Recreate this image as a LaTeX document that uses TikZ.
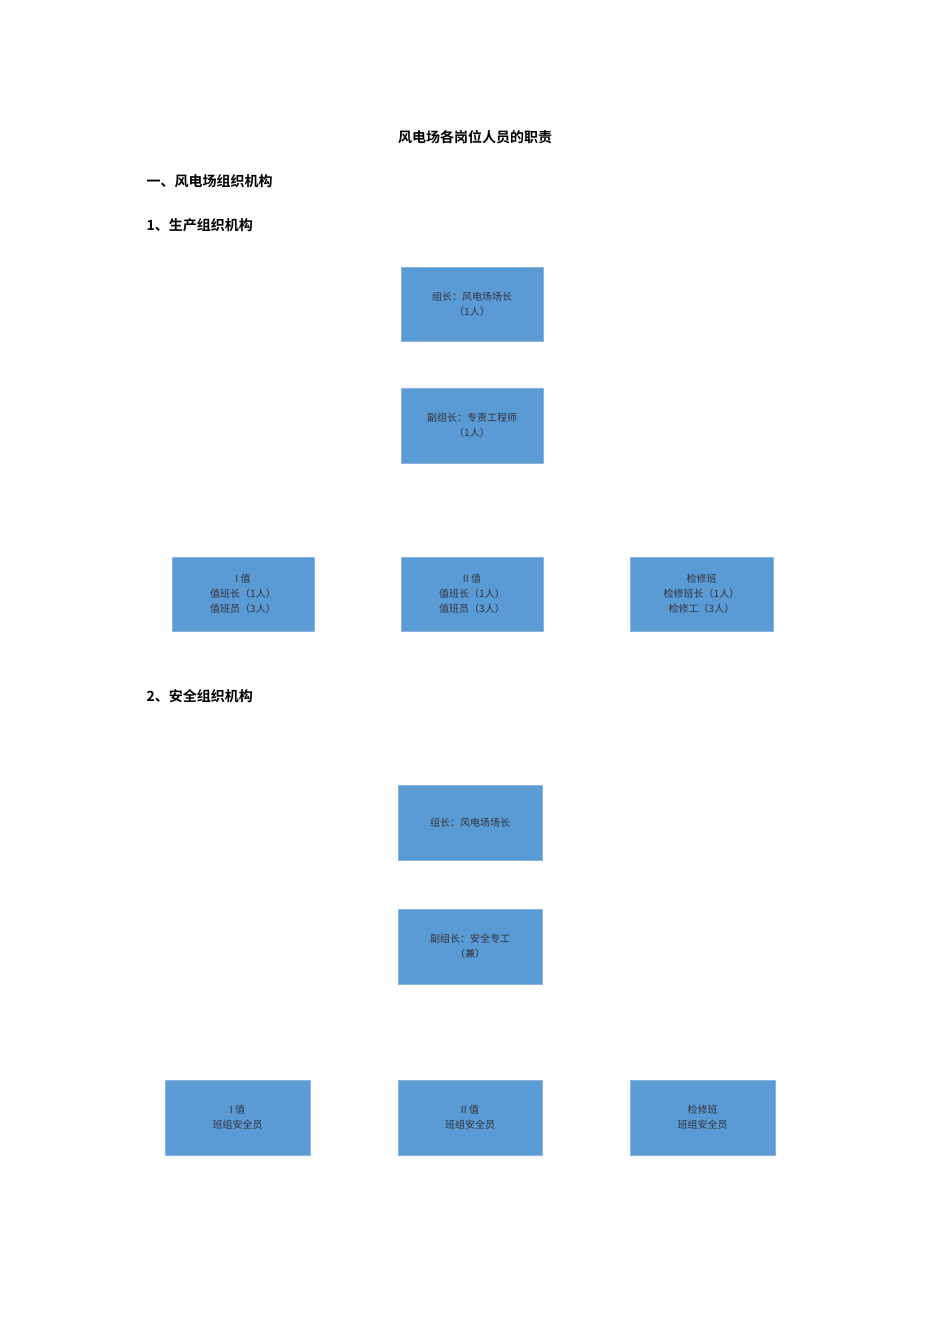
\documentclass[tikz,border=0pt]{standalone}
\usepackage{fontspec}
\setmainfont{Noto Sans CJK SC}
\newfontfamily\hd{Noto Sans CJK SC Bold}
\begin{document}
\begin{tikzpicture}[x=1pt,y=-1pt,
 bx/.style={fill={rgb,255:red,91;green,155;blue,213},draw={rgb,255:red,140;green,180;blue,225},line width=1pt,align=center,font=\fontsize{10}{15}\selectfont,text={rgb,255:red,50;green,50;blue,60},inner sep=0pt},
 hd/.style={anchor=west,font=\hd\fontsize{14}{16}\selectfont}]
\useasboundingbox (0,0) rectangle (950,1344);
\node[font=\hd\fontsize{14}{16}\selectfont] (t) at (475,137) {风电场各岗位人员的职责};
\node[hd] (h1) at (143,181) {一、风电场组织机构};
\node[hd] (h2) at (143,225) {1、生产组织机构};
\node[hd] (h3) at (143,696) {2、安全组织机构};
\newcommand\bxat[6]{\node[bx,minimum width=#4-#2,minimum height=#5-#3] (#1) at ({(#2+#4)/2},{(#3+#5)/2}) {#6};}
\bxat{a1}{401}{267}{543}{341}{组长：风电场场长\\（1人）}
\bxat{a2}{401}{388}{543}{463}{副组长：专责工程师\\（1人）}
\bxat{a3}{172}{557}{314}{631}{I 值\\值班长（1人）\\值班员（3人）}
\bxat{a4}{401}{557}{543}{631}{II 值\\值班长（1人）\\值班员（3人）}
\bxat{a5}{630}{557}{773}{631}{检修班\\检修班长（1人）\\检修工（3人）}
\bxat{b1}{398}{785}{542}{860}{组长：风电场场长}
\bxat{b2}{398}{909}{542}{984}{副组长：安全专工\\（兼）}
\bxat{b3}{165}{1080}{310}{1155}{I 值\\班组安全员}
\bxat{b4}{398}{1080}{542}{1155}{II 值\\班组安全员}
\bxat{b5}{630}{1080}{775}{1155}{检修班\\班组安全员}
\end{tikzpicture}
\end{document}
